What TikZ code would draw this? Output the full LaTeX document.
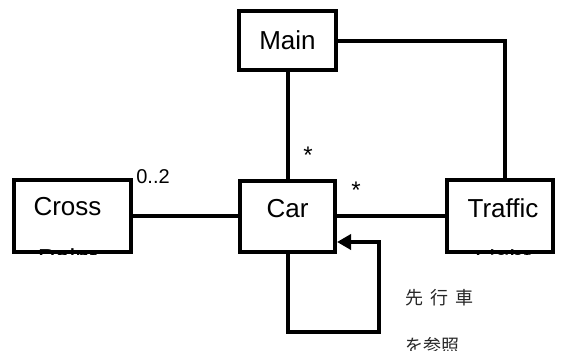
\documentclass[tikz,border=0pt]{standalone}
\usepackage{fontspec}
\setmainfont{Liberation Sans}
\newfontfamily\jpfont{Noto Sans CJK JP}
\usetikzlibrary{arrows.meta,calc}
\begin{document}
\begin{tikzpicture}[x=1pt,y=-1pt,
  umlbox/.style={draw, line width=4pt, fill=white, inner sep=0pt},
  conn/.style={line width=4pt},
  txt/.style={font=\fontsize{26}{26}\selectfont, inner sep=0pt},
  mult/.style={font=\fontsize{20}{20}\selectfont, inner sep=0pt},
  star/.style={font=\fontsize{24}{24}\selectfont, inner sep=0pt},
  note/.style={font=\jpfont\fontsize{18}{18}\selectfont, text=black!85, inner sep=0pt}]
\useasboundingbox (0,0) rectangle (563,351);
\clip (0,0) rectangle (563,351);

% class boxes
\node[umlbox, minimum width=97pt, minimum height=59pt] (main) at (287.5,40.5) {};
\node[umlbox, minimum width=117pt, minimum height=72pt] (cross) at (72.5,216) {};
\node[umlbox, minimum width=95pt, minimum height=71pt] (car) at (287.5,216) {};
\node[umlbox, minimum width=106pt, minimum height=72pt] (traffic) at (500,216) {};

% class names, cut off at the box borders
\node[txt, anchor=base] (mainname) at (287.5,49.5) {Main};
\node[txt, anchor=base] (carname) at (287.5,217) {Car};
\begin{scope}
  \clip (cross.south west) rectangle (cross.north east);
  \node[txt, anchor=base] (crossname1) at (67.5,215) {Cross};
  \node[txt, anchor=base] (crossname2) at (67.5,267) {Point};
\end{scope}
\begin{scope}
  \clip (traffic.south west) rectangle (traffic.north east);
  \node[txt, anchor=base] (trafficname1) at (503,217) {Traffic};
  \node[txt, anchor=base] (trafficname2) at (503,268) {Light};
\end{scope}

% associations
\draw[conn] (main.south) -- (car.north);
\draw[conn] (cross.east) -- (car.west);
\draw[conn] (car.east) -- (traffic.west);
\coordinate (tlTop) at ($(traffic.north)+(5,0)$);
\draw[conn] (main.east) -| (tlTop);

% self reference loop
\coordinate (loopA) at (287.5,332);
\coordinate (loopB) at (379,332);
\coordinate (loopC) at (379,242);
\coordinate (loopEnd) at (337,242);
\draw[conn, -{Triangle[length=14pt,width=15pt]}]
  (car.south) -- (loopA) -- (loopB) -- (loopC) -- (loopEnd);

% multiplicities
\node[mult] (m02) at (153,177) {0..2};
\node[star] (mstar1) at (308,155) {*};
\node[star] (mstar2) at (356,190) {*};

% note on the loop
\node[note, anchor=west] (note1) at (405,298) {先\hspace{7pt}行\hspace{7pt}車};
\node[note, anchor=west] (note2) at (405,346) {を参照};
\end{tikzpicture}
\end{document}
